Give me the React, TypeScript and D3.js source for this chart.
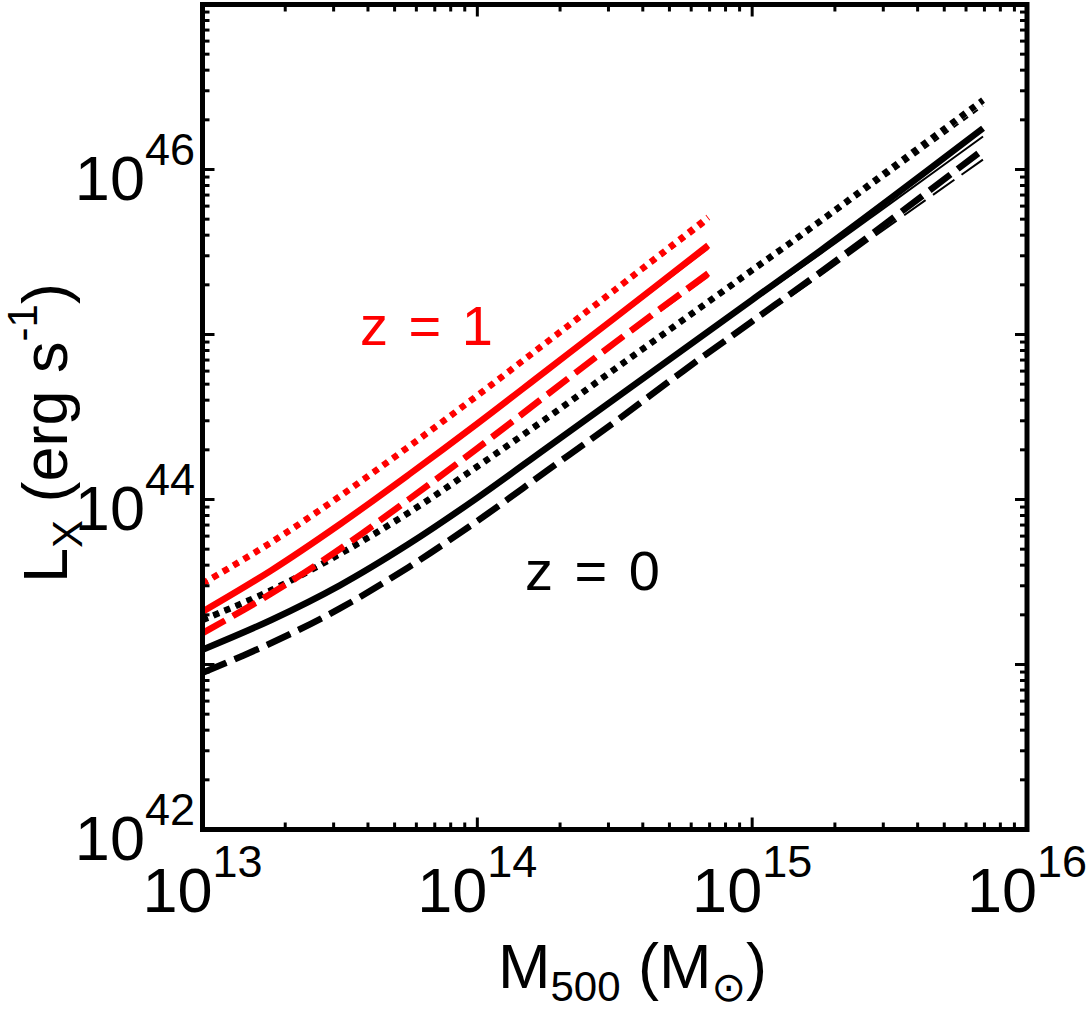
import React from "react";
import * as d3 from "d3";

const W = 1088;
const H = 1013;

// log10 of M500 (Msun) sampled along each curve
const logMassZ0 = [13, 13.25, 13.5, 13.75, 14, 14.25, 14.5, 14.75, 15, 15.25, 15.5, 15.84];
const logMassZ1 = [13, 13.25, 13.5, 13.75, 14, 14.25, 14.5, 14.84];

// log10 Lx (erg/s), z = 0, thick lines
const z0Dotted = [43.27, 43.45, 43.67, 43.92, 44.2, 44.49, 44.79, 45.09, 45.39, 45.69, 46.0, 46.42];
const z0Solid = [43.09, 43.27, 43.48, 43.73, 44.01, 44.31, 44.61, 44.91, 45.21, 45.51, 45.82, 46.25];
const z0Dashed = [42.95, 43.13, 43.34, 43.59, 43.87, 44.17, 44.47, 44.78, 45.08, 45.38, 45.69, 46.12];
// z = 0, thin lines
const z0DottedThin = [43.27, 43.45, 43.67, 43.92, 44.2, 44.49, 44.79, 45.085, 45.38, 45.675, 45.975, 46.385];
const z0SolidThin = [43.09, 43.27, 43.48, 43.73, 44.01, 44.31, 44.61, 44.905, 45.2, 45.49, 45.79, 46.2];
const z0DashedThin = [42.95, 43.13, 43.34, 43.59, 43.87, 44.17, 44.47, 44.775, 45.07, 45.36, 45.66, 46.06];

// z = 1, thick lines
const z1Dotted = [43.49, 43.74, 44.02, 44.32, 44.63, 44.95, 45.27, 45.71];
const z1Solid = [43.32, 43.57, 43.85, 44.15, 44.46, 44.78, 45.1, 45.54];
const z1Dashed = [43.19, 43.43, 43.7, 44.0, 44.31, 44.63, 44.95, 45.37];
// z = 1, thin lines
const z1DottedThin = [43.49, 43.74, 44.02, 44.32, 44.63, 44.945, 45.26, 45.685];
const z1SolidThin = [43.32, 43.57, 43.85, 44.15, 44.46, 44.775, 45.09, 45.52];
const z1DashedThin = [43.19, 43.43, 43.7, 44.0, 44.31, 44.625, 44.94, 45.35];

const xLabelExps = [13, 14, 15, 16];
const yLabelExps = [42, 44, 46];

const RED = "#ff0000";
const FONT = "'Liberation Sans', Arial, sans-serif";

const DOT = "6 6";
const DASH = "26 9";

const series = [
  { m: logMassZ0, l: z0Dotted, color: "#000", w: 6.5, dash: DOT },
  { m: logMassZ0, l: z0DottedThin, color: "#000", w: 2, dash: DOT },
  { m: logMassZ0, l: z0Solid, color: "#000", w: 6.5, dash: null },
  { m: logMassZ0, l: z0SolidThin, color: "#000", w: 2, dash: null },
  { m: logMassZ0, l: z0Dashed, color: "#000", w: 6.5, dash: DASH },
  { m: logMassZ0, l: z0DashedThin, color: "#000", w: 2, dash: DASH },
  { m: logMassZ1, l: z1Dotted, color: RED, w: 6.5, dash: DOT },
  { m: logMassZ1, l: z1DottedThin, color: RED, w: 2, dash: DOT },
  { m: logMassZ1, l: z1Solid, color: RED, w: 6.5, dash: null },
  { m: logMassZ1, l: z1SolidThin, color: RED, w: 2, dash: null },
  { m: logMassZ1, l: z1Dashed, color: RED, w: 6.5, dash: DASH },
  { m: logMassZ1, l: z1DashedThin, color: RED, w: 2, dash: DASH },
];

const left = 202.5;
const right = 1027;
const top = 4.5;
const bottom = 829.5;

const x = d3.scaleLog().domain([1e13, 1e16]).range([left, right]);
const y = d3.scaleLog().domain([1e42, 1e47]).range([bottom, top]);

const isMajor = (v: number) => Math.abs(Math.log10(v) - Math.round(Math.log10(v))) < 1e-6;

export default function App() {
  const line = d3
    .line<[number, number]>()
    .x((d) => x(Math.pow(10, d[0])))
    .y((d) => y(Math.pow(10, d[1])))
    .curve(d3.curveCatmullRom.alpha(0.5));

  const xt = x.ticks();
  const yt = y.ticks();
  const minorLen = 7;
  const majorLen = 12;

  return (
    <svg
      width={W}
      height={H}
      style={{ position: "absolute", left: 0, top: 0, background: "#fff" }}
      fontFamily={FONT}
    >
      <rect x={0} y={0} width={W} height={H} fill="#fff" />
      <g>
        {series.map((s, i) => (
          <path
            key={i}
            d={line(s.m.map((v, j) => [v, s.l[j]] as [number, number])) || ""}
            fill="none"
            stroke={s.color}
            strokeWidth={s.w}
            strokeDasharray={s.dash || undefined}
          />
        ))}
      </g>

      {/* ticks on all four sides, pointing inward */}
      <g stroke="#000" strokeWidth={3}>
        {xt.map((v, i) => {
          const len = isMajor(v) ? majorLen : minorLen;
          return (
            <g key={"x" + i}>
              <line x1={x(v)} x2={x(v)} y1={bottom} y2={bottom - len} />
              <line x1={x(v)} x2={x(v)} y1={top} y2={top + len} />
            </g>
          );
        })}
        {yt.map((v, i) => {
          const len = isMajor(v) ? majorLen : minorLen;
          return (
            <g key={"y" + i}>
              <line x1={left} x2={left + len} y1={y(v)} y2={y(v)} />
              <line x1={right} x2={right - len} y1={y(v)} y2={y(v)} />
            </g>
          );
        })}
      </g>
      <rect x={left} y={top} width={right - left} height={bottom - top} fill="none" stroke="#000" strokeWidth={5} />

      {/* tick labels */}
      {xLabelExps.map((e) => (
        <text key={"xl" + e} x={x(Math.pow(10, e))} y={912} textAnchor="middle" fontSize={63}>
          10
          <tspan fontSize={45} dy={-35}>
            {e}
          </tspan>
        </text>
      ))}
      {yLabelExps.map((e) => (
        <text key={"yl" + e} x={195} y={y(Math.pow(10, e)) + 30} textAnchor="end" fontSize={63}>
          10
          <tspan fontSize={45} dy={-35}>
            {e}
          </tspan>
        </text>
      ))}

      {/* axis titles */}
      <text x={498} y={988} fontSize={63} style={{ whiteSpace: "pre" }}>
        M
        <tspan fontSize={42} dy={13}>
          500
        </tspan>
        <tspan fontSize={63} dy={-13}>
          {" (M"}
        </tspan>
        <tspan fontFamily="'DejaVu Sans', sans-serif" fontSize={41} dy={13}>
          {"\u2299"}
        </tspan>
        <tspan fontSize={63} dy={-13}>
          )
        </tspan>
      </text>
      <text transform="translate(67,583) rotate(-90)" fontSize={63} style={{ whiteSpace: "pre" }}>
        L
        <tspan fontSize={42} dy={15}>
          X
        </tspan>
        <tspan fontSize={63} dy={-15}>
          {" (erg s"}
        </tspan>
        <tspan fontSize={42} dy={-30}>
          -1
        </tspan>
        <tspan fontSize={63} dy={30}>
          )
        </tspan>
      </text>

      {/* annotations */}
      <text x={360} y={345} fontSize={56} fill={RED} style={{ whiteSpace: "pre", wordSpacing: "5px" }}>
        {"z = 1"}
      </text>
      <text x={525} y={590} fontSize={56} fill="#000" style={{ whiteSpace: "pre", wordSpacing: "6px" }}>
        {"z = 0"}
      </text>
    </svg>
  );
}
